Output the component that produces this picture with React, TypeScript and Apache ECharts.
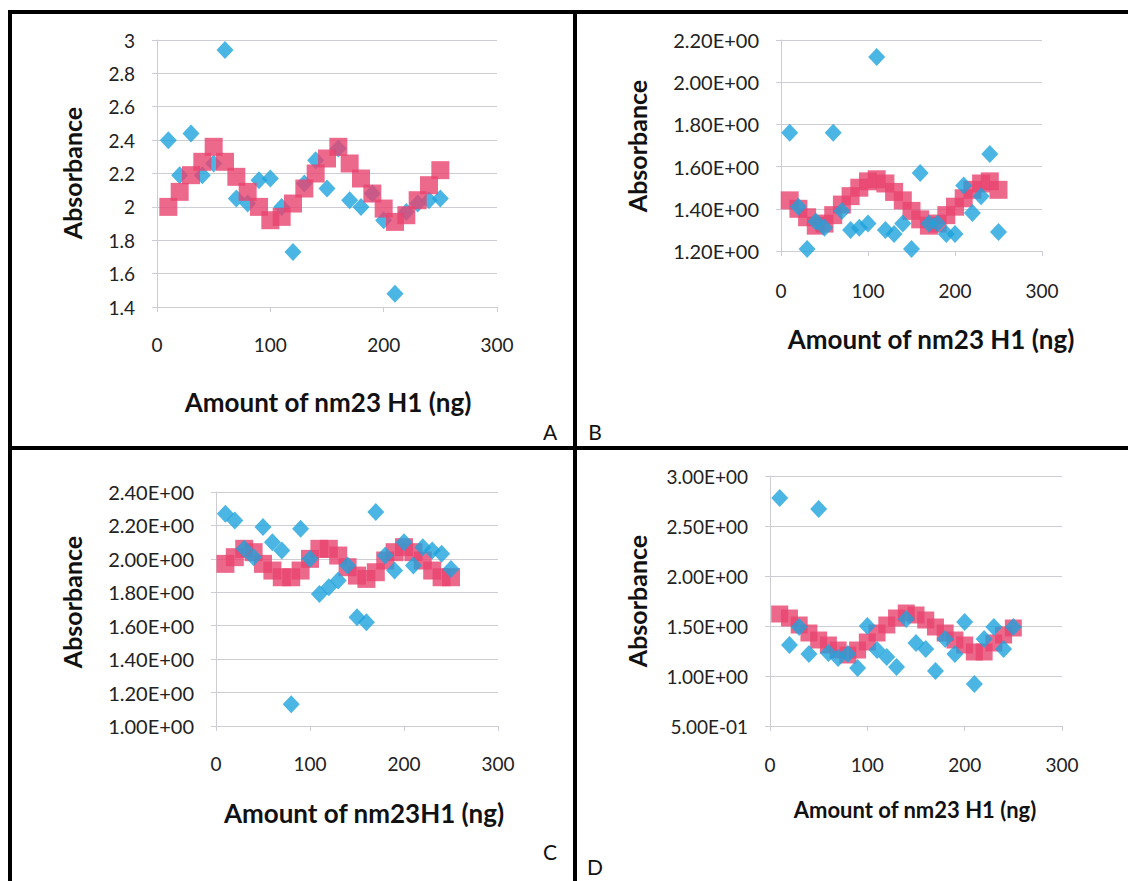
import React, { useEffect, useRef } from "react";
import * as echarts from "echarts";

const doses = [10, 20, 30, 40, 50, 60, 70, 80, 90, 100, 110, 120, 130, 140, 150, 160, 170, 180, 190, 200, 210, 220, 230, 240, 250];

const aFit = [2.0, 2.09, 2.19, 2.27, 2.36, 2.27, 2.18, 2.09, 2.0, 1.92, 1.94, 2.02, 2.11, 2.2, 2.29, 2.36, 2.26, 2.17, 2.08, 1.99, 1.91, 1.95, 2.04, 2.13, 2.22];
const aMeas = [2.4, 2.19, 2.44, 2.19, 2.26, 2.94, 2.05, 2.02, 2.16, 2.17, 2.0, 1.73, 2.14, 2.28, 2.11, 2.35, 2.04, 2.0, 2.08, 1.92, 1.48, 1.97, 2.02, 2.04, 2.05];

const bFit = [1.44, 1.4, 1.36, 1.32, 1.33, 1.37, 1.42, 1.46, 1.5, 1.53, 1.54, 1.52, 1.48, 1.44, 1.39, 1.35, 1.32, 1.33, 1.37, 1.41, 1.45, 1.49, 1.52, 1.53, 1.49];
const bMeas = [1.76, 1.41, 1.21, 1.34, 1.31, 1.76, 1.39, 1.3, 1.31, 1.33, 2.12, 1.3, 1.28, 1.33, 1.21, 1.57, 1.33, 1.33, 1.28, 1.28, 1.51, 1.38, 1.46, 1.66, 1.29];

const cFit = [1.97, 2.01, 2.06, 2.04, 1.97, 1.93, 1.89, 1.89, 1.93, 2.0, 2.06, 2.06, 2.02, 1.95, 1.9, 1.88, 1.92, 1.99, 2.04, 2.07, 2.04, 1.99, 1.93, 1.89, 1.89];
const cMeas = [2.27, 2.23, 2.06, 2.01, 2.19, 2.1, 2.05, 1.13, 2.18, 2.0, 1.79, 1.83, 1.87, 1.96, 1.65, 1.62, 2.28, 2.02, 1.93, 2.1, 1.96, 2.07, 2.05, 2.03, 1.94];

const dFit = [1.62, 1.58, 1.51, 1.43, 1.36, 1.31, 1.26, 1.21, 1.26, 1.34, 1.43, 1.51, 1.58, 1.63, 1.61, 1.56, 1.49, 1.43, 1.36, 1.31, 1.24, 1.24, 1.33, 1.41, 1.48];
const dMeas = [2.78, 1.31, 1.49, 1.22, 2.67, 1.23, 1.18, 1.22, 1.08, 1.5, 1.26, 1.19, 1.09, 1.57, 1.33, 1.27, 1.05, 1.37, 1.22, 1.54, 0.92, 1.37, 1.49, 1.27, 1.49];

const xTitles = ["Amount of nm23 H1 (ng)", "Amount of nm23 H1 (ng)", "Amount of nm23H1 (ng)", "Amount of nm23 H1 (ng)"];
const yTitle = "Absorbance";
const panelLetters = ["A", "B", "C", "D"];

const PINK = "#e9446f";
const BLUE = "#1ea3dc";
const GRID = "#cdcdd6";
const FONT = "Lato";

function sci(v: number): string {
  const r = Math.round(v * 1e6) / 1e6;
  if (r === 0) return "0.00E+00";
  const e = Math.floor(Math.log10(Math.abs(r)) + 1e-9);
  const m = r / Math.pow(10, e);
  return m.toFixed(2) + "E" + (e < 0 ? "-" : "+") + String(Math.abs(e)).padStart(2, "0");
}

const pair = (vals: number[]) => vals.map((v, i) => [doses[i], v]);

export default function App() {
  const ref = useRef<HTMLDivElement>(null);
  useEffect(() => {
    document.body.style.margin = "0";
    const chart = echarts.init(ref.current!, undefined, { renderer: "svg" });

    const grids = [
      { left: 157, top: 40, width: 340, height: 267 },
      { left: 781, top: 40, width: 261, height: 211 },
      { left: 216, top: 492, width: 282, height: 234 },
      { left: 770, top: 476, width: 292, height: 250 },
    ];
    const yRanges = [
      { min: 1.4, max: 3, interval: 0.2, fmt: (v: number) => String(Math.round(v * 100) / 100), size: 19 },
      { min: 1.2, max: 2.2, interval: 0.2, fmt: sci, size: 20 },
      { min: 1.0, max: 2.4, interval: 0.2, fmt: sci, size: 20 },
      { min: 0.5, max: 3.0, interval: 0.5, fmt: sci, size: 19 },
    ];
    const xLabelMargin = [28, 30, 28, 29];
    const xLabelSize = [19, 19, 19, 19];

    const xAxes = grids.map((_, i) => ({
      type: "value",
      gridIndex: i,
      min: 0,
      max: 300,
      interval: 100,
      axisLine: { show: true, lineStyle: { color: GRID, width: 1 } },
      axisTick: { show: true, inside: false, length: 5, lineStyle: { color: GRID } },
      splitLine: { show: false },
      axisLabel: { color: "#222", fontFamily: FONT, fontSize: xLabelSize[i], margin: xLabelMargin[i] },
    }));
    const yAxes = yRanges.map((r, i) => ({
      type: "value",
      gridIndex: i,
      min: r.min,
      max: r.max,
      interval: r.interval,
      axisLine: { show: true, lineStyle: { color: GRID, width: 1 } },
      axisTick: { show: true, inside: false, length: 5, lineStyle: { color: GRID } },
      splitLine: { show: true, lineStyle: { color: GRID, width: 1 } },
      axisLabel: { color: "#222", fontFamily: FONT, fontSize: r.size, margin: 22, formatter: r.fmt },
    }));

    const fits = [aFit, bFit, cFit, dFit];
    const meas = [aMeas, bMeas, cMeas, dMeas];
    const sq = [18, 18, 18, 17];
    const series: any[] = [];
    for (let i = 0; i < 4; i++) {
      const fitS = {
        type: "scatter",
        name: "fit" + i,
        xAxisIndex: i,
        yAxisIndex: i,
        symbol: "rect",
        symbolSize: sq[i],
        itemStyle: { color: PINK },
        data: pair(fits[i]),
        z: i === 0 ? 3 : 2,
      };
      const measS = {
        type: "scatter",
        name: "meas" + i,
        xAxisIndex: i,
        yAxisIndex: i,
        symbol: "diamond",
        symbolSize: [17, 18],
        itemStyle: { color: BLUE },
        data: pair(meas[i]),
        z: i === 0 ? 2 : 3,
      };
      series.push(fitS, measS);
    }

    const black = { stroke: "#000", lineWidth: 4 };
    const xTitlePos = [
      { x: 328, y: 402, size: 26 },
      { x: 931, y: 339, size: 26 },
      { x: 364, y: 813, size: 26 },
      { x: 915, y: 809, size: 22 },
    ];
    const yTitlePos = [
      { x: 72, y: 173 },
      { x: 637, y: 146 },
      { x: 72, y: 602 },
      { x: 637, y: 601 },
    ];
    const letterPos = [
      { x: 550, y: 431 },
      { x: 595, y: 431 },
      { x: 550, y: 851 },
      { x: 595, y: 866 },
    ];
    const graphics: any[] = [
      { type: "line", shape: { x1: 8, y1: 12, x2: 1128, y2: 12 }, style: black, z: 10 },
      { type: "line", shape: { x1: 10, y1: 10, x2: 10, y2: 881 }, style: black, z: 10 },
      { type: "line", shape: { x1: 8, y1: 448, x2: 1128, y2: 448 }, style: black, z: 10 },
      { type: "line", shape: { x1: 575, y1: 10, x2: 575, y2: 881 }, style: black, z: 10 },
    ];
    xTitlePos.forEach((p, i) => {
      graphics.push({
        type: "text",
        x: p.x,
        y: p.y,
        style: { text: xTitles[i], font: `bold ${p.size}px ${FONT}`, fill: "#111", align: "center", verticalAlign: "middle" },
      });
    });
    yTitlePos.forEach((p) => {
      graphics.push({
        type: "text",
        x: p.x,
        y: p.y,
        rotation: Math.PI / 2,
        style: { text: yTitle, font: `bold 25px ${FONT}`, fill: "#111", align: "center", verticalAlign: "middle" },
      });
    });
    letterPos.forEach((p, i) => {
      graphics.push({
        type: "text",
        x: p.x,
        y: p.y,
        style: { text: panelLetters[i], font: `21px ${FONT}`, fill: "#111", align: "center", verticalAlign: "middle" },
      });
    });

    chart.setOption({
      animation: false,
      backgroundColor: "#fff",
      grid: grids.map((g) => ({ ...g, containLabel: false })),
      xAxis: xAxes,
      yAxis: yAxes,
      series,
      graphic: graphics,
    });
    return () => chart.dispose();
  }, []);
  return <div ref={ref} style={{ width: 1128, height: 881 }} />;
}
